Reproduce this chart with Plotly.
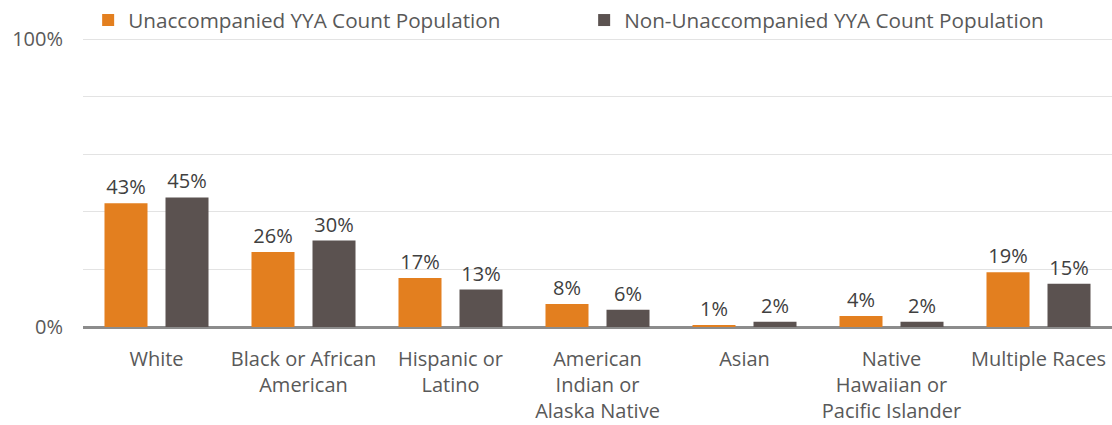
import plotly.graph_objects as go

categories = ["White", "Black or African<br>American", "Hispanic or<br>Latino",
              "American<br>Indian or<br>Alaska Native", "Asian",
              "Native<br>Hawaiian or<br>Pacific Islander", "Multiple Races"]
unaccompanied = [43, 26, 17, 8, 0.6, 3.8, 19]
unaccompanied_labels = ["43%", "26%", "17%", "8%", "1%", "4%", "19%"]
non_unaccompanied = [45, 30, 13, 6, 1.8, 1.8, 15]
non_unaccompanied_labels = ["45%", "30%", "13%", "6%", "2%", "2%", "15%"]
series_names = ["Unaccompanied YYA Count Population", "Non-Unaccompanied YYA Count Population"]
y_tick_vals = [0, 20, 40, 60, 80, 100]
y_tick_text = ["0%", "", "", "", "", "100%"]

FONT = "Open Sans"
FS = 20
fig = go.Figure()
fig.add_trace(go.Bar(x=categories, y=unaccompanied, name=series_names[0],
                     marker=dict(color="#E37F1F", line=dict(width=0)),
                     text=unaccompanied_labels, textposition="outside",
                     textfont=dict(size=FS, color="#404040", family=FONT),
                     cliponaxis=False))
fig.add_trace(go.Bar(x=categories, y=non_unaccompanied, name=series_names[1],
                     marker=dict(color="#5B5250", line=dict(width=0)),
                     text=non_unaccompanied_labels, textposition="outside",
                     textfont=dict(size=FS, color="#404040", family=FONT),
                     cliponaxis=False))

fig.update_layout(
    width=1112, height=425,
    margin=dict(l=83, r=0, t=38, b=98, autoexpand=False),
    paper_bgcolor="white", plot_bgcolor="white",
    font=dict(family=FONT, size=FS, color="#595959"),
    barmode="group", bargap=0.17, bargroupgap=0.295,
    showlegend=True,
    legend=dict(orientation="h", x=0.005, y=1.062, xanchor="left", yanchor="middle",
                font=dict(size=20.7, color="#595959", family=FONT),
                entrywidth=451, itemwidth=30, traceorder="normal",
                bgcolor="rgba(0,0,0,0)"),
)
fig.update_xaxes(showgrid=False, showline=False, ticks="", tickangle=0,
                 automargin=False, ticklabelstandoff=18,
                 tickfont=dict(size=FS, color="#595959", family=FONT))
fig.update_yaxes(range=[0, 100.35], tickvals=y_tick_vals, ticktext=y_tick_text,
                 showgrid=True, gridcolor="#E3E3E3", gridwidth=1,
                 zeroline=True, zerolinecolor="#8C8C8C", zerolinewidth=3,
                 showline=False, ticks="", ticklabelstandoff=19, automargin=False,
                 tickfont=dict(size=FS, color="#595959", family=FONT))

fig.write_html("out.html", config={"displayModeBar": False},
               post_script="document.body.style.margin='0';document.body.style.overflow='hidden';")
